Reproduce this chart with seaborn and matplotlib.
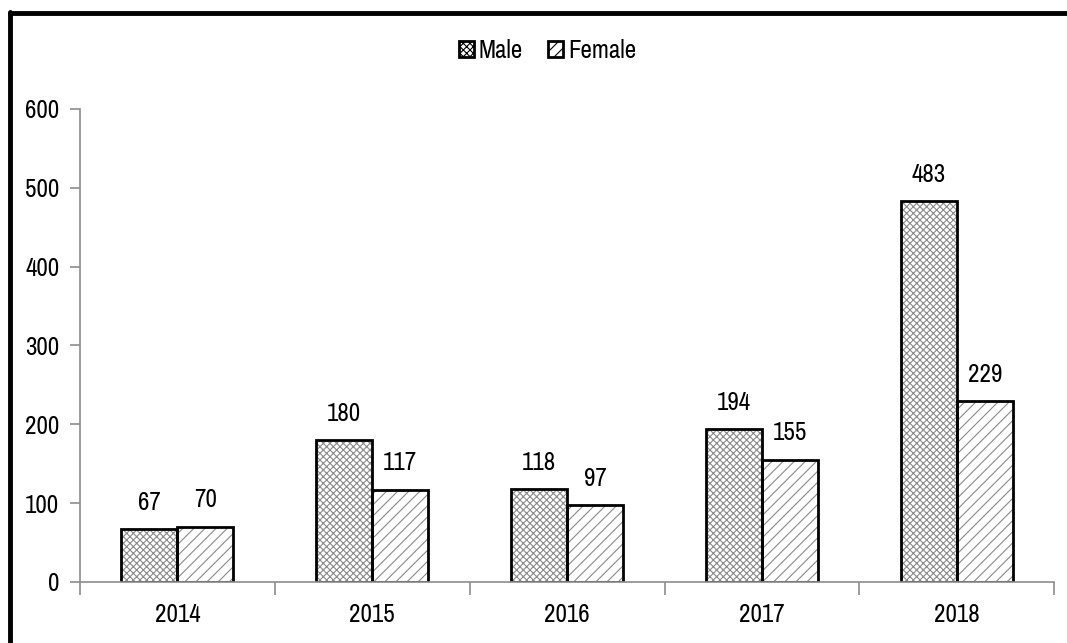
import pandas as pd
import numpy as np
import matplotlib
matplotlib.use("Agg")
import matplotlib.pyplot as plt
import seaborn as sns
from matplotlib.patches import Patch
from matplotlib.lines import Line2D
from matplotlib import font_manager

years = ['2014', '2015', '2016', '2017', '2018']
male = [67, 180, 118, 194, 483]
female = [70, 117, 97, 155, 229]
groups = ['Male', 'Female']
hatches = {'Male': 'xxxxx', 'Female': '///'}

df = pd.DataFrame({
    'year': years * 2,
    'count': male + female,
    'sex': ['Male'] * len(years) + ['Female'] * len(years),
})

sns.set_style('white')
narrow = [f.name for f in font_manager.fontManager.ttflist
          if 'Narrow' in f.name or 'Condensed' in f.name]
plt.rcParams['font.family'] = (narrow[:1] if narrow else []) + ['DejaVu Sans']
plt.rcParams['font.stretch'] = 'condensed'
plt.rcParams['text.color'] = 'black'
plt.rcParams['xtick.color'] = 'black'
plt.rcParams['ytick.color'] = 'black'
plt.rcParams['hatch.linewidth'] = 0.8

fs = 18

fig = plt.figure(figsize=(10.67, 6.43), dpi=100)
ax = fig.add_axes([0.075, 0.095, 0.913, 0.7355])

# hatched fill
sns.barplot(data=df, x='year', y='count', hue='sex', hue_order=groups,
            width=0.575, gap=0, palette=['white', 'white'], edgecolor='#8a8a8a',
            linewidth=0, legend=False, errorbar=None, ax=ax)
for cont, g in zip(ax.containers, groups):
    for bar in cont:
        bar.set_hatch(hatches[g])

# black outlines
sns.barplot(data=df, x='year', y='count', hue='sex', hue_order=groups,
            width=0.575, gap=0, fill=False, edgecolor='black',
            linewidth=2, legend=False, errorbar=None, ax=ax)

for cont in ax.containers[:2]:
    ax.bar_label(cont, padding=11, fontsize=fs, color='black')

ax.set_ylim(0, 600)
ax.set_xlim(-0.5, 4.5)
ax.set_yticks(range(0, 601, 100))
ax.set_xlabel('')
ax.set_ylabel('')
sns.despine(ax=ax)
for s in ['left', 'bottom']:
    ax.spines[s].set_color('#8c8c8c')
    ax.spines[s].set_linewidth(1.2)
ax.tick_params(axis='y', length=7, color='#8c8c8c', width=1.2, labelsize=fs,
               labelcolor='black', left=True, pad=8)
ax.tick_params(axis='x', which='major', length=0, labelsize=fs, labelcolor='black', pad=15)
ax.set_xticks(np.arange(-0.5, 5, 1), minor=True)
ax.tick_params(axis='x', which='minor', length=9, color='#8c8c8c', width=1.2, bottom=True)

handles = [Patch(facecolor='white', edgecolor='black', linewidth=2,
                 hatch=hatches[g], label=g) for g in groups]
fig.legend(handles=handles, loc='center', bbox_to_anchor=(0.513, 0.922), ncol=2,
           frameon=False, fontsize=fs, handlelength=0.6, handleheight=0.6,
           handletextpad=0.2, columnspacing=1.0)

# outer frame (top and left edges)
fig.add_artist(Line2D([0.009, 1.0], [0.98, 0.98], color='black', lw=3.5,
                      transform=fig.transFigure))
fig.add_artist(Line2D([0.0095, 0.0095], [0.0, 0.981], color='black', lw=3.5,
                      transform=fig.transFigure))

fig.savefig('out.png', dpi=100)
